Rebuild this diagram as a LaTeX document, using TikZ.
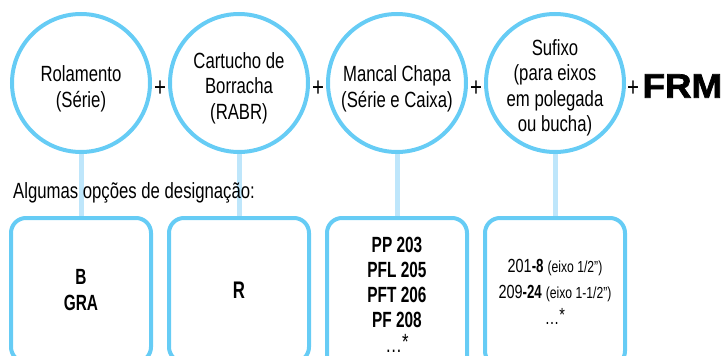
\documentclass[tikz,border=0pt]{standalone}
\usepackage{fontspec}
\setmainfont{Liberation Sans}[FakeStretch=0.76,BoldFeatures={FakeStretch=0.7}]
\newfontfamily\frmfont{Liberation Sans}[FakeStretch=1.08,FakeBold=2]
\usetikzlibrary{positioning,calc,backgrounds}
\definecolor{rolblue}{RGB}{102,204,245}
\definecolor{linkblue}{RGB}{190,230,251}
\newcommand{\maisetc}{\dots\smash{\raisebox{3pt}{*}}}

\begin{document}
\begin{tikzpicture}[x=1pt,y=-1pt,font=\fontsize{22}{25.5}\selectfont,
    partcircle/.style={draw=rolblue,line width=4pt,circle,minimum size=138pt,inner sep=0pt},
    parttext/.style={align=center,inner sep=0pt},
    optbox/.style={draw=rolblue,line width=4pt,rounded corners=15pt,
                   minimum width=140pt,minimum height=144pt,inner sep=0pt,align=center},
    plussign/.style={inner sep=0pt,yshift=-6pt,font=\fontsize{27}{27}\selectfont},
    link/.style={draw=linkblue,line width=5pt}]
    \useasboundingbox (0,0) rectangle (721,356);
    \clip (0,0) rectangle (721,356);
    % componentes
    \node[partcircle] (rolamento) at (81,83) {};
    \node[partcircle,right=16pt of rolamento] (cartucho) {};
    \node[partcircle,right=16pt of cartucho] (mancal) {};
    \node[partcircle,right=16pt of mancal] (sufixo) {};
    \node[parttext] (rolamentoTxt) at ([yshift=-6pt]rolamento.center) {Rolamento\\(Série)};
    \node[parttext] (cartuchoTxt) at ([yshift=-5pt]cartucho.center) {Cartucho de\\Borracha\\(RABR)};
    \node[parttext] (mancalTxt) at ([yshift=-6pt]mancal.center) {Mancal Chapa\\(Série e Caixa)};
    \node[parttext] (sufixoTxt) at ([yshift=-5pt]sufixo.center) {Sufixo\\(para eixos\\em polegada\\ou bucha)};
    \node[plussign] (plusA) at ($(rolamento.east)!0.5!(cartucho.west)$) {+};
    \node[plussign] (plusB) at ($(cartucho.east)!0.5!(mancal.west)$) {+};
    \node[plussign] (plusC) at ($(mancal.east)!0.5!(sufixo.west)$) {+};
    \node[plussign,right=1pt of sufixo] (plusD) {+};
    \node[anchor=west,inner sep=0pt,font=\frmfont\bfseries\fontsize{34}{34}\selectfont]
      (frm) at ([xshift=3pt,yshift=3pt]plusD.east) {FRM};
    \node[anchor=base west,inner sep=0pt] (legenda) at (13,198) {Algumas opções de designação:};
    % opcoes
    \node[optbox,below=62pt of rolamento] (opRol) {\textbf{B}\\\textbf{GRA}};
    \node[optbox,below=62pt of cartucho,font=\fontsize{24}{26}\selectfont] (opCart) {\textbf{R}};
    \node[optbox,below=62pt of mancal,minimum height=154pt,font=\fontsize{22}{25}\selectfont] (opMancal)
      {\textbf{PP 203}\\\textbf{PFL 205}\\\textbf{PFT 206}\\\textbf{PF 208}\\\maisetc};
    \node[optbox,below=62pt of sufixo,minimum height=148pt,font=\fontsize{19}{26}\selectfont] (opSufixo)
      {201\textbf{-8} {\fontsize{16}{16}\selectfont(eixo 1/2”)}\\
       209\textbf{-24} {\fontsize{16}{16}\selectfont(eixo 1-1/2”)}\\
       \maisetc};
    \begin{scope}[on background layer]
      \draw[link] (rolamento.south) -- (opRol.north);
      \draw[link] (cartucho.south) -- (opCart.north);
      \draw[link] (mancal.south) -- (opMancal.north);
      \draw[link] (sufixo.south) -- (opSufixo.north);
    \end{scope}
\end{tikzpicture}
\end{document}
